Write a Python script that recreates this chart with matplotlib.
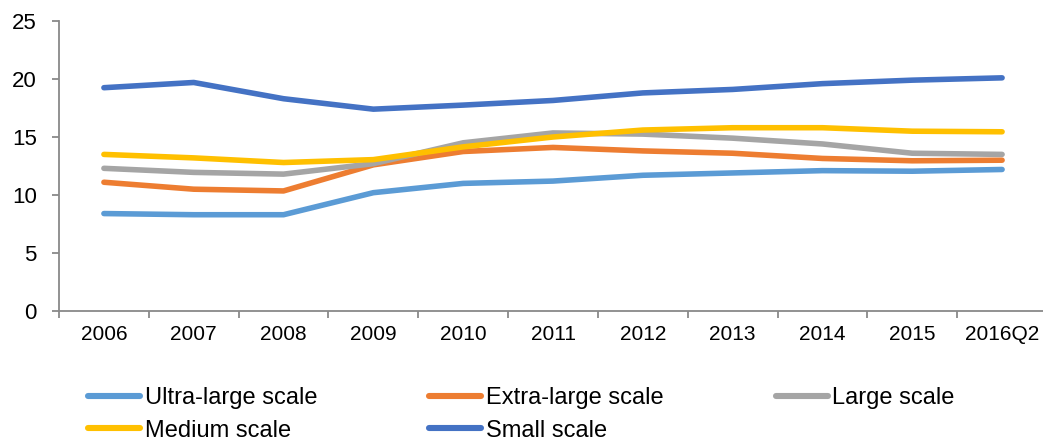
import matplotlib
matplotlib.use("Agg")
import matplotlib.pyplot as plt

plt.rcParams['font.family'] = ['Liberation Sans', 'DejaVu Sans']

# share of loans by enterprise scale (%)
periods = ['2006', '2007', '2008', '2009', '2010', '2011',
           '2012', '2013', '2014', '2015', '2016Q2']
ultra_large = [8.4, 8.3, 8.3, 10.2, 11.0, 11.2, 11.7, 11.9, 12.1, 12.05, 12.2]
extra_large = [11.1, 10.5, 10.35, 12.6, 13.75, 14.1, 13.8, 13.6, 13.15, 12.95, 13.0]
large = [12.3, 11.95, 11.8, 12.7, 14.5, 15.35, 15.25, 14.9, 14.4, 13.6, 13.5]
medium = [13.5, 13.2, 12.8, 13.05, 14.15, 15.0, 15.6, 15.8, 15.8, 15.5, 15.45]
small = [19.25, 19.7, 18.3, 17.4, 17.75, 18.15, 18.8, 19.1, 19.6, 19.9, 20.1]

series = [
    ('Ultra-large scale', ultra_large, '#5B9BD5'),
    ('Extra-large scale', extra_large, '#ED7D31'),
    ('Large scale', large, '#A5A5A5'),
    ('Medium scale', medium, '#FFC000'),
    ('Small scale', small, '#4472C4'),
]

W, H = 1043, 442
fig = plt.figure(figsize=(W / 100, H / 100), dpi=100)
ax = fig.add_axes([59 / W, 131 / H, 988 / W, 290 / H])

x = list(range(len(periods)))
handles = {}
for name, vals, col in series:
    ln, = ax.plot(x, vals, color=col, lw=4.0, solid_capstyle='round',
                  solid_joinstyle='round', label=name)
    handles[name] = ln

ax.set_xlim(-0.5, len(periods) - 0.5)
ax.set_ylim(0, 25)
ax.set_yticks(range(0, 26, 5))
ax.set_xticks(x)
ax.set_xticklabels(periods)
ax.set_xticks([i - 0.5 for i in range(len(periods) + 1)], minor=True)

axis_grey = '#898989'
for side in ['top', 'right']:
    ax.spines[side].set_visible(False)
for side in ['left', 'bottom']:
    ax.spines[side].set_color(axis_grey)
    ax.spines[side].set_linewidth(1.3)

ax.tick_params(axis='y', labelsize=16, length=5, width=1.3, color=axis_grey,
               pad=11, labelcolor='black')
ax.tick_params(axis='x', which='major', length=0, labelsize=15, pad=10,
               labelcolor='black')
ax.tick_params(axis='x', which='minor', length=5, width=1.3, color=axis_grey)

# row-major order in a 3-column legend
order = ['Ultra-large scale', 'Medium scale', 'Extra-large scale',
         'Small scale', 'Large scale']
leg_lines = []
for name in order:
    h = handles[name]
    proxy = plt.Line2D([], [], color=h.get_color(), lw=4.4,
                       solid_capstyle='round')
    leg_lines.append(proxy)
fig.legend(leg_lines, order, ncol=3, frameon=False, fontsize=17,
           loc='upper left', bbox_to_anchor=(88 / W, 55 / H),
           borderaxespad=0, borderpad=0, handlelength=2.2,
           handletextpad=0.2, columnspacing=4.75, labelspacing=0.45)

fig.savefig('out.png', dpi=100)
